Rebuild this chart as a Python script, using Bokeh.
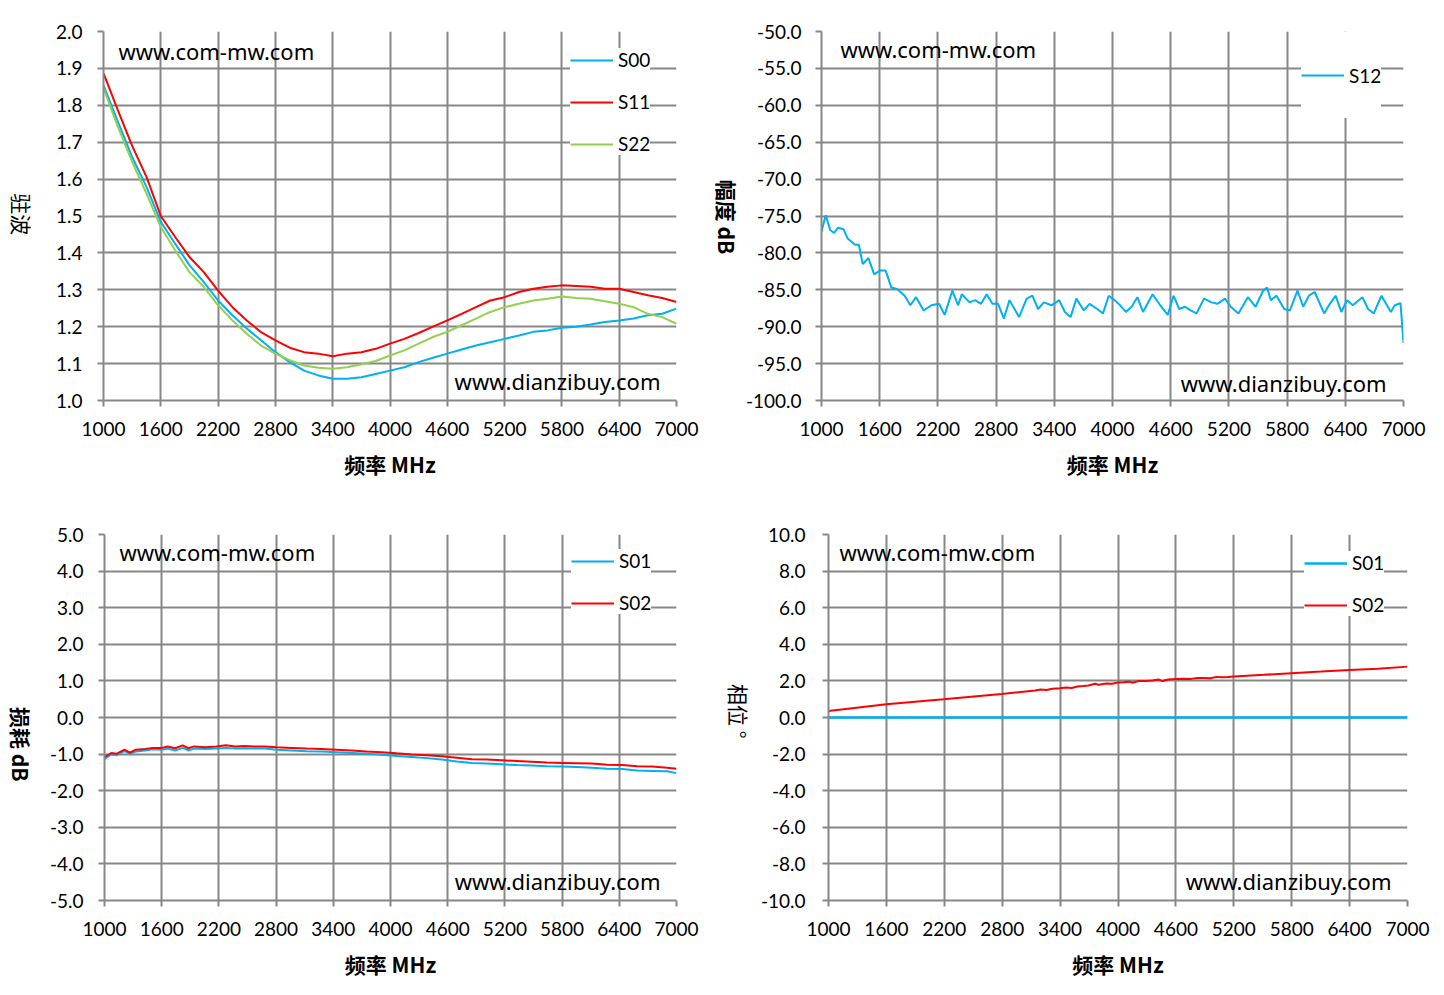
import math
from bokeh.plotting import figure
from bokeh.models import Range1d, FixedTicker, NumeralTickFormatter, Label, Legend, LegendItem
from bokeh.layouts import column, row
from bokeh.embed import file_html
from bokeh.resources import INLINE

# ---------------- data ----------------
X_TICKS = [1000, 1600, 2200, 2800, 3400, 4000, 4600, 5200, 5800, 6400, 7000]

# VSWR (top-left)
vswr_freq = [1000, 1150, 1300, 1450, 1600, 1750, 1900, 2050, 2200, 2350, 2500, 2650, 2800, 2950,
             3100, 3250, 3400, 3550, 3700, 3850, 4000, 4150, 4300, 4450, 4600, 4750, 4900, 5050,
             5200, 5350, 5500, 5650, 5800, 5950, 6100, 6250, 6400, 6550, 6700, 6850, 7000]
s00_vswr = [1.855, 1.756, 1.660, 1.579, 1.484, 1.425, 1.367, 1.321, 1.271, 1.231, 1.195, 1.163, 1.131, 1.104,
            1.081, 1.068, 1.059, 1.059, 1.063, 1.072, 1.081, 1.090, 1.104, 1.116, 1.127, 1.138, 1.149, 1.158,
            1.167, 1.176, 1.186, 1.190, 1.197, 1.200, 1.206, 1.213, 1.217, 1.222, 1.231, 1.235, 1.249]
s11_vswr = [1.887, 1.787, 1.690, 1.606, 1.500, 1.443, 1.389, 1.348, 1.298, 1.253, 1.217, 1.185, 1.163, 1.143,
            1.131, 1.127, 1.120, 1.127, 1.131, 1.140, 1.154, 1.167, 1.183, 1.200, 1.217, 1.235, 1.253, 1.271,
            1.280, 1.294, 1.303, 1.308, 1.312, 1.310, 1.308, 1.303, 1.303, 1.294, 1.285, 1.278, 1.267]
s22_vswr = [1.846, 1.742, 1.647, 1.561, 1.470, 1.407, 1.348, 1.308, 1.258, 1.217, 1.181, 1.149, 1.127, 1.109,
            1.095, 1.089, 1.086, 1.090, 1.098, 1.107, 1.122, 1.136, 1.154, 1.172, 1.186, 1.204, 1.222, 1.240,
            1.253, 1.262, 1.271, 1.276, 1.282, 1.278, 1.276, 1.269, 1.262, 1.253, 1.235, 1.226, 1.208]

# Isolation S12 (top-right)
s12_freq = [1000, 1043, 1090, 1130, 1169, 1228, 1267, 1346, 1385, 1425, 1484, 1543, 1602, 1661, 1720,
            1779, 1857, 1916, 1975, 2054, 2132, 2211, 2270, 2349, 2408, 2447, 2526, 2585, 2644, 2703,
            2762, 2821, 2880, 2938, 3037, 3115, 3174, 3233, 3292, 3371, 3450, 3509, 3568, 3627, 3705,
            3764, 3843, 3902, 3961, 4020, 4079, 4138, 4197, 4256, 4315, 4413, 4492, 4570, 4629, 4688,
            4747, 4806, 4865, 4944, 5022, 5081, 5160, 5219, 5298, 5396, 5475, 5553, 5593, 5632, 5691,
            5770, 5829, 5907, 5966, 6025, 6084, 6182, 6241, 6300, 6359, 6418, 6477, 6576, 6635, 6694,
            6772, 6870, 6910, 6969, 7000]
s12_db = [-77.1, -74.9, -76.9, -77.3, -76.6, -76.8, -78.0, -78.9, -78.9, -81.5, -80.7, -82.9, -82.4, -82.4, -84.7,
          -84.9, -85.8, -87.1, -86.0, -87.8, -87.1, -86.9, -88.4, -85.1, -87.1, -85.6, -86.7, -86.4, -86.9, -85.6,
          -86.9, -86.9, -88.9, -86.4, -88.7, -86.2, -85.8, -87.6, -86.7, -87.1, -86.4, -88.0, -88.7, -86.2, -87.8,
          -86.9, -87.6, -88.2, -85.8, -86.4, -87.1, -88.0, -87.3, -86.0, -88.0, -85.6, -87.1, -88.4, -85.8, -87.6,
          -87.3, -87.8, -88.2, -86.2, -86.7, -86.9, -86.2, -87.3, -88.2, -86.0, -87.3, -85.1, -84.7, -86.4, -85.8,
          -87.6, -87.8, -85.1, -87.3, -85.8, -85.3, -88.2, -86.9, -85.8, -88.0, -86.4, -87.1, -86.0, -87.6, -88.2,
          -85.8, -88.0, -87.1, -86.8, -92.2]

# Insertion loss (bottom-left)
il_freq = [1000, 1071, 1130, 1209, 1268, 1327, 1426, 1504, 1603, 1662, 1741, 1820, 1879, 1938, 2056, 2174,
           2273, 2371, 2470, 2568, 2686, 2805, 2962, 3120, 3277, 3435, 3593, 3750, 3908, 4065, 4223, 4380,
           4538, 4696, 4853, 5011, 5168, 5326, 5484, 5641, 5799, 5956, 6114, 6272, 6429, 6587, 6744, 6902, 7000]
s01_loss = [-1.13, -1.01, -1.03, -0.92, -0.99, -0.93, -0.90, -0.87, -0.88, -0.85, -0.90, -0.83, -0.90, -0.85, -0.86, -0.85,
            -0.83, -0.85, -0.84, -0.85, -0.85, -0.88, -0.90, -0.92, -0.93, -0.95, -0.97, -0.99, -1.02, -1.05, -1.08, -1.11,
            -1.15, -1.20, -1.24, -1.26, -1.28, -1.30, -1.31, -1.33, -1.34, -1.35, -1.37, -1.40, -1.41, -1.45, -1.46, -1.47, -1.52]
s02_loss = [-1.08, -0.97, -0.99, -0.88, -0.96, -0.88, -0.86, -0.83, -0.83, -0.79, -0.84, -0.76, -0.84, -0.79, -0.81, -0.79,
            -0.76, -0.79, -0.78, -0.79, -0.79, -0.81, -0.83, -0.85, -0.86, -0.88, -0.90, -0.93, -0.95, -0.98, -1.01, -1.03,
            -1.06, -1.10, -1.14, -1.15, -1.17, -1.19, -1.21, -1.23, -1.24, -1.25, -1.26, -1.29, -1.30, -1.33, -1.34, -1.37, -1.40]

# Phase (bottom-right)
ph01_freq = [1000, 2200, 3400, 4600, 5800, 7000]
s01_phase = [0.0, 0.0, 0.0, 0.0, 0.0, 0.0]
ph02_freq = [1000, 1600, 2193, 2793, 3141, 3200, 3260, 3320, 3398, 3460, 3520, 3580, 3640, 3694, 3760, 3800,
             3880, 3940, 3998, 4060, 4120, 4150, 4220, 4286, 4360, 4420, 4460, 4520, 4602, 4680, 4760, 4820,
             4879, 4960, 5020, 5080, 5140, 5203, 5511, 5799, 6103, 6400, 6696, 7000]
s02_phase = [0.36, 0.73, 1.00, 1.29, 1.47, 1.53, 1.50, 1.57, 1.60, 1.64, 1.61, 1.69, 1.72, 1.75, 1.84, 1.79,
             1.86, 1.84, 1.91, 1.93, 1.96, 1.90, 2.00, 2.00, 2.02, 2.08, 1.99, 2.08, 2.11, 2.12, 2.11, 2.16,
             2.16, 2.14, 2.22, 2.20, 2.21, 2.24, 2.33, 2.42, 2.51, 2.60, 2.67, 2.78]

# ---------------- style ----------------
BLUE = "#00B0F0"
RED = "#FF0000"
GREEN = "#92D050"
GRID = "#878787"
TICK_FONT = "Lato"
CJK = "Noto Sans CJK SC"
WM_FONT = "Noto Sans"
ROW_H = 497


def make_fig(ylo, yhi, ystep, borders, frame, ystandoff):
    bl, br, bt, bb = borders
    fw, fh = frame
    p = figure(width=bl + fw + br, height=bt + fh + bb, output_backend="svg", toolbar_location=None,
               x_range=Range1d(1000, 7000), y_range=Range1d(ylo, yhi),
               min_border_left=bl, min_border_right=br, min_border_top=bt, min_border_bottom=bb)
    p.background_fill_color = "white"
    p.border_fill_color = "white"
    p.outline_line_color = None
    n = int(round((yhi - ylo) / ystep))
    yt = [round(ylo + i * ystep, 4) for i in range(n + 1)]
    p.xaxis.ticker = FixedTicker(ticks=X_TICKS)
    p.yaxis.ticker = FixedTicker(ticks=yt)
    p.yaxis.formatter = NumeralTickFormatter(format="0.0")
    for ax in (p.xaxis, p.yaxis):
        ax.axis_line_color = GRID
        ax.axis_line_width = 2
        ax.major_tick_line_color = GRID
        ax.major_tick_line_width = 2
        ax.major_tick_out = 6
        ax.major_tick_in = 0
        ax.minor_tick_line_color = None
        ax.major_label_text_font = TICK_FONT
        ax.major_label_text_font_size = "19px"
        ax.major_label_text_color = "black"
    p.xaxis.major_label_standoff = 15
    p.yaxis.major_label_standoff = ystandoff
    p.xaxis.axis_label = "频率 MHz"
    p.xaxis.axis_label_text_font = CJK
    p.xaxis.axis_label_text_font_size = "21px"
    p.xaxis.axis_label_text_font_style = "bold"
    p.xaxis.axis_label_text_color = "black"
    p.xaxis.axis_label_standoff = 10
    p.yaxis.axis_label = None
    p.xgrid.ticker = FixedTicker(ticks=X_TICKS)
    p.ygrid.ticker = FixedTicker(ticks=yt)
    for g in (p.xgrid, p.ygrid):
        g.grid_line_color = GRID
        g.grid_line_width = 2
    return p


def label_strip(width, text, cx, cy, bold):
    """narrow strip holding a y-axis title rotated to read top-to-bottom"""
    s = figure(width=width, height=ROW_H, output_backend="svg", toolbar_location=None,
               x_range=Range1d(0, width), y_range=Range1d(0, ROW_H), min_border=0,
               x_axis_location=None, y_axis_location=None)
    s.outline_line_color = None
    s.grid.visible = False
    s.background_fill_color = "white"
    s.border_fill_color = "white"
    s.add_layout(Label(x=cx, y=ROW_H - cy, text=text, angle=-math.pi / 2, text_font=CJK,
                       text_font_size="21px", text_font_style="bold" if bold else "normal",
                       text_color="black", text_align="center", text_baseline="middle"))
    return s


def add_legend(p, items, loc, gh=20, pad=9):
    lg = Legend(items=items, location=loc)
    lg.label_text_font = TICK_FONT
    lg.label_text_font_size = "19px"
    lg.label_text_color = "black"
    lg.glyph_width = 43
    lg.glyph_height = gh
    lg.label_height = gh
    lg.label_standoff = 5
    lg.spacing = 19
    lg.padding = pad
    lg.margin = 0
    lg.border_line_color = None
    lg.background_fill_color = "white"
    lg.background_fill_alpha = 1.0
    p.add_layout(lg)


def watermarks(p, x1, y1, x2, y2):
    p.add_layout(Label(x=x1, y=y1, text="www.com-mw.com", text_font=WM_FONT, text_font_size="22px",
                       text_baseline="middle", text_align="left", text_color="black"))
    p.add_layout(Label(x=x2, y=y2, text="www.dianzibuy.com", text_font=WM_FONT, text_font_size="22px",
                       text_baseline="middle", text_align="right", text_color="black"))


# top-left: VSWR
lab1 = label_strip(40, "驻波", 21, 246, False)
p1 = make_fig(1.0, 2.0, 0.1, (63, 28, 31, 97), (573, 369), 15)
r00 = p1.line(vswr_freq, s00_vswr, line_color=BLUE, line_width=2)
r11 = p1.line(vswr_freq, s11_vswr, line_color=RED, line_width=2)
r22 = p1.line(vswr_freq, s22_vswr, line_color=GREEN, line_width=2)
watermarks(p1, 1157, 1.9485, 6832, 1.0515)
add_legend(p1, [LegendItem(label="S00", renderers=[r00]), LegendItem(label="S11", renderers=[r11]),
                LegendItem(label="S22", renderers=[r22])], (467, 245))

# top-right: isolation
lab2 = label_strip(38, "幅度 dB", 22, 250, True)
p2 = make_fig(-100.0, -50.0, 5.0, (77, 40, 29, 97), (584, 371), 14)
r12 = p2.line(s12_freq, s12_db, line_color=BLUE, line_width=2)
watermarks(p2, 1195, -52.43, 6826, -97.57)
add_legend(p2, [LegendItem(label="S12", renderers=[r12])], (480, 282), gh=86, pad=12)

# bottom-left: insertion loss
lab3 = label_strip(40, "损耗 dB", 20, 285, True)
p3 = make_fig(-5.0, 5.0, 1.0, (64, 28, 37, 94), (572, 366), 15)
r01 = p3.line(il_freq, s01_loss, line_color=BLUE, line_width=2)
r02 = p3.line(il_freq, s02_loss, line_color=RED, line_width=2)
watermarks(p3, 1157, 4.535, 6832, -4.48)
add_legend(p3, [LegendItem(label="S01", renderers=[r01]), LegendItem(label="S02", renderers=[r02])], (467, 286))

# bottom-right: phase
lab4 = label_strip(50, "相位 °", 34, 240, False)
p4 = make_fig(-10.0, 10.0, 2.0, (74, 36, 37, 94), (579, 366), 17)
q01 = p4.line(ph01_freq, s01_phase, line_color=BLUE, line_width=2.5)
q02 = p4.line(ph02_freq, s02_phase, line_color=RED, line_width=2)
watermarks(p4, 1114, 9.02, 6834, -8.96)
add_legend(p4, [LegendItem(label="S01", renderers=[q01]), LegendItem(label="S02", renderers=[q02])], (476, 284))

layout = column(row(lab1, p1, lab2, p2), row(lab3, p3, lab4, p4))
open("out.html", "w").write(file_html(layout, INLINE))
